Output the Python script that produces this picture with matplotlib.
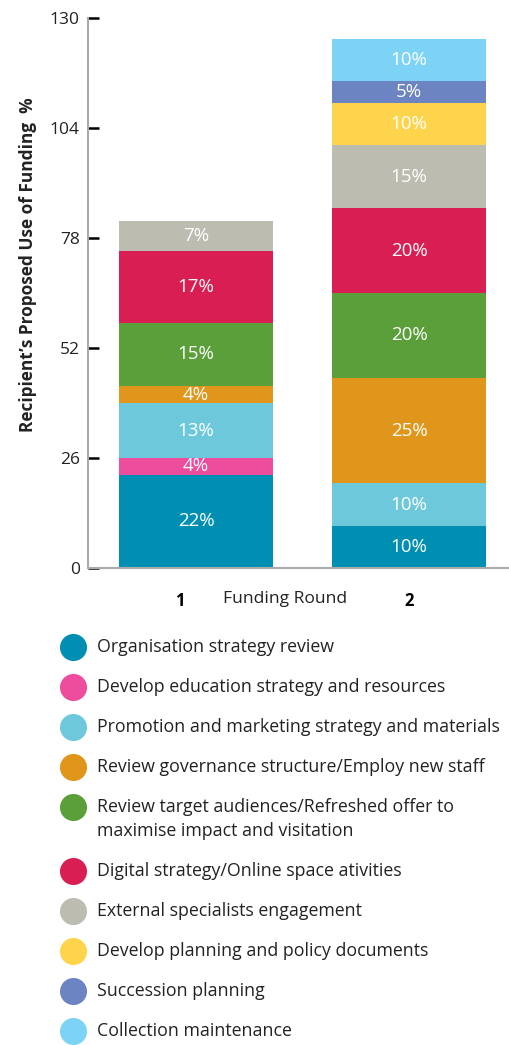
import matplotlib.pyplot as plt
import numpy as np
from matplotlib.transforms import blended_transform_factory

plt.rcParams["font.family"] = ["Open Sans", "DejaVu Sans"]

# data
rounds = ["1", "2"]
categories = [
    "Organisation strategy review",
    "Develop education strategy and resources",
    "Promotion and marketing strategy and materials",
    "Review governance structure/Employ new staff",
    "Review target audiences/Refreshed offer to\nmaximise impact and visitation",
    "Digital strategy/Online space ativities",
    "External specialists engagement",
    "Develop planning and policy documents",
    "Succession planning",
    "Collection maintenance",
]
round1 = [22, 4, 13, 4, 15, 17, 7, 0, 0, 0]
round2 = [10, 0, 10, 25, 20, 20, 15, 10, 5, 10]
colors = [
    "#008FB3", "#EE4C9C", "#6DC8DB", "#E0961A", "#5A9F3A",
    "#D91E53", "#BCBCB0", "#FFD44D", "#6C84C2", "#7DD3F5",
]
yticks = [0, 26, 52, 78, 104, 130]

W, H = 509, 1045
fig = plt.figure(figsize=(W / 100, H / 100), dpi=100)
ax = fig.add_axes([88 / W, (H - 568) / H, (W - 88) / W, 550 / H])

x = np.arange(len(rounds))
width = 0.723
values = np.array([round1, round2])
bottoms = np.zeros(len(rounds))
for i, color in enumerate(colors):
    vals = values[:, i]
    ax.bar(x, vals, width, bottom=bottoms, color=color, linewidth=0)
    for xi, v, b in zip(x, vals, bottoms):
        if v > 0:
            ax.text(xi, b + v / 2, f"{v}%", ha="center", va="center",
                    color="white", fontsize=13.5)
    bottoms += vals

ax.set_xlim(-0.507, 1.469)
ax.set_ylim(0, 130)
ax.set_yticks(yticks)
ax.tick_params(axis="y", direction="in", length=8, width=1.8, color="black",
               labelsize=12.5, labelcolor="#222222", pad=6)
ax.set_xticks([-0.075, 1])
ax.set_xticklabels(rounds, fontweight="bold", fontsize=12)
ax.tick_params(axis="x", length=0, pad=17)
for s in ["top", "right"]:
    ax.spines[s].set_visible(False)
for s in ["left", "bottom"]:
    ax.spines[s].set_color("#AAAAAA")
    ax.spines[s].set_linewidth(1.5)

trans = blended_transform_factory(ax.transData, ax.transAxes)
ax.text(0.418, -0.056, "Funding Round", transform=trans, ha="center",
        va="center", fontsize=12.6, color="#222222")
fig.text(28 / W, 1 - 265 / H, "Recipient\u2019s Proposed Use of Funding  %",
         rotation=90, ha="center", va="center", fontsize=12.4,
         fontweight="bold", color="#222222")

# legend drawn in pixel coordinates
lax = fig.add_axes([0, 0, 1, 1])
lax.set_xlim(0, W)
lax.set_ylim(H, 0)
lax.axis("off")
rows_y = [647, 687, 727, 767, 807, 871, 911, 951, 991, 1031]
for yy, label, color in zip(rows_y, categories, colors):
    lax.scatter([73], [yy], s=380, color=color, linewidths=0)
    for k, line in enumerate(label.split("\n")):
        lax.text(97, yy + 24 * k, line, ha="left", va="center",
                 fontsize=12.8, color="#222222")

fig.savefig("out.png", dpi=100)
